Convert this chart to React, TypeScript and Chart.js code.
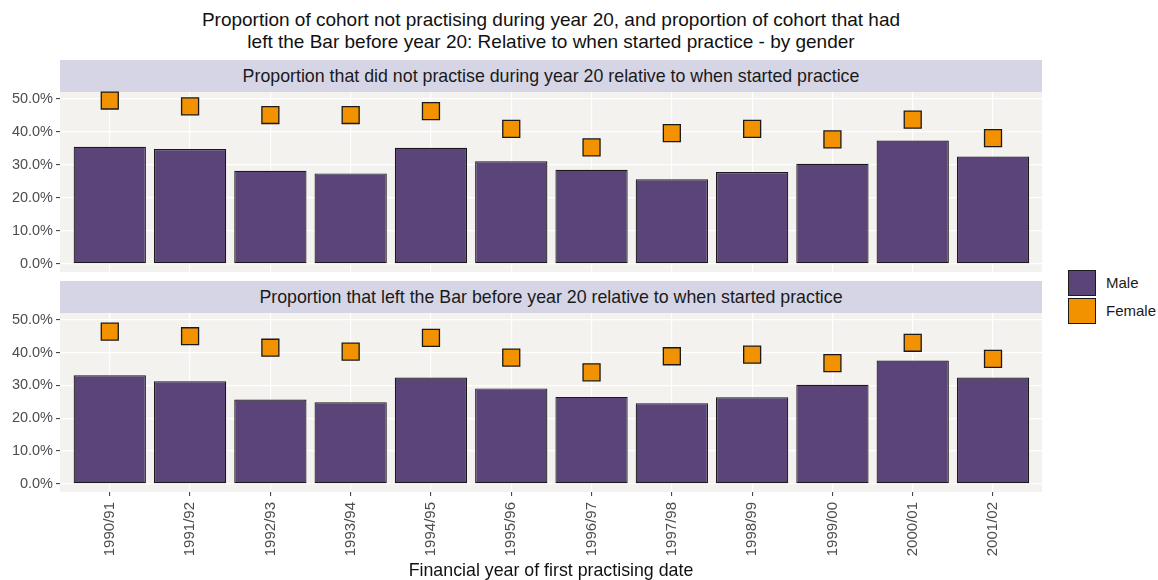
import React, { useEffect, useRef } from "react";
import Chart from "chart.js/auto";

const categories = ["1990/91", "1991/92", "1992/93", "1993/94", "1994/95", "1995/96", "1996/97", "1997/98", "1998/99", "1999/00", "2000/01", "2001/02"];
const notPractisingMale = [35.5, 34.8, 28.2, 27.4, 35.2, 31.1, 28.5, 25.6, 27.8, 30.3, 37.4, 32.5];
const notPractisingFemale = [49.5, 47.7, 45.1, 45.1, 46.3, 40.9, 35.3, 39.6, 40.9, 37.7, 43.7, 38.1];
const leftBarMale = [33.1, 31.3, 25.7, 24.9, 32.4, 29.1, 26.5, 24.6, 26.4, 30.2, 37.6, 32.4];
const leftBarFemale = [46.4, 45.0, 41.5, 40.3, 44.5, 38.5, 34.0, 38.9, 39.4, 36.8, 43.0, 38.1];
const yTickValues = [0, 10, 20, 30, 40, 50];
const seriesNames = ["Male", "Female"];
const titleLines = [
  "Proportion of cohort not practising during year 20, and proportion of cohort that had",
  "left the Bar before year 20: Relative to when started practice - by gender",
];
const stripTitles = [
  "Proportion that did not practise during year 20 relative to when started practice",
  "Proportion that left the Bar before year 20 relative to when started practice",
];
const xAxisTitle = "Financial year of first practising date";

const FONT = '"Liberation Sans", Arial, sans-serif';
const MALE = "#5A4478";
const FEMALE = "#F39200";
const PANEL_BG = "#F3F2EF";
const STRIP_BG = "#D6D5E5";

const panelBg = {
  id: "panelBg",
  beforeDraw(chart: any) {
    const { ctx, chartArea } = chart;
    ctx.save();
    ctx.fillStyle = PANEL_BG;
    ctx.fillRect(chartArea.left, chartArea.top, chartArea.right - chartArea.left, chartArea.bottom - chartArea.top);
    ctx.restore();
  },
};

function makeConfig(male: number[], female: number[], showX: boolean): any {
  return {
    type: "bar",
    data: {
      datasets: [
        {
          type: "line",
          label: seriesNames[1],
          data: female.map((v, i) => ({ x: i + 1, y: v })),
          showLine: false,
          pointStyle: "rect",
          pointRadius: 12,
          pointHoverRadius: 12,
          pointBackgroundColor: FEMALE,
          pointBorderColor: "#1a1a1a",
          pointBorderWidth: 1.3,
          clip: false,
          order: 1,
        },
        {
          type: "bar",
          label: seriesNames[0],
          data: male.map((v, i) => ({ x: i + 1, y: v })),
          backgroundColor: MALE,
          borderColor: "#1a1a1a",
          borderWidth: 1.2,
          borderSkipped: false,
          barPercentage: 0.9,
          categoryPercentage: 1,
          order: 2,
        },
      ],
    },
    options: {
      responsive: false,
      animation: false,
      events: [],
      layout: { autoPadding: false, padding: { top: 7, bottom: showX ? 0 : 8, left: 0, right: 8 } },
      plugins: { legend: { display: false }, tooltip: { enabled: false }, title: { display: false } },
      scales: {
        x: {
          type: "linear",
          min: 0.38,
          max: 12.61,
          offset: false,
          afterFit: (s: any) => {
            s.height = showX ? 88 : 0;
            s.paddingLeft = 0;
            s.paddingRight = 0;
          },
          border: { display: false },
          grid: {
            offset: false,
            color: "#FFFFFF",
            lineWidth: 1.2,
            drawTicks: showX,
            tickLength: 4,
            tickColor: "#333333",
            tickWidth: 1,
          },
          ticks: {
            display: showX,
            stepSize: 1,
            includeBounds: false,
            autoSkip: false,
            minRotation: 90,
            maxRotation: 90,
            padding: 6,
            color: "#4D4D4D",
            font: { family: FONT, size: 15 },
            callback: (v: number) => categories[v - 1] ?? "",
          },
        },
        y: {
          min: -2.48,
          max: 52.08,
          afterFit: (s: any) => {
            s.width = 60;
            s.paddingTop = 0;
            s.paddingBottom = 0;
          },
          border: { display: false },
          grid: {
            color: "#FFFFFF",
            lineWidth: (ctx: any) => (ctx.tick && yTickValues.includes(ctx.tick.value) ? 1.2 : 0.6),
            tickColor: (ctx: any) => (ctx.tick && yTickValues.includes(ctx.tick.value) ? "#333333" : "rgba(0,0,0,0)"),
            tickLength: 4,
            tickWidth: 1,
          },
          ticks: {
            stepSize: 5,
            includeBounds: false,
            padding: 3,
            color: "#4D4D4D",
            font: { family: FONT, size: 14.5 },
            callback: (v: number) => (yTickValues.includes(v) ? v.toFixed(1) + "%" : ""),
          },
        },
      },
    },
    plugins: [panelBg],
  };
}

function Panel({ male, female, showX, top, height }: any) {
  const ref = useRef<HTMLCanvasElement | null>(null);
  useEffect(() => {
    if (!ref.current) return;
    const chart = new Chart(ref.current, makeConfig(male, female, showX));
    return () => chart.destroy();
  }, []);
  return (
    <canvas
      ref={ref}
      width={1050}
      height={height}
      style={{ position: "absolute", left: 0, top, width: 1050, height }}
    />
  );
}

const stripStyle = (top: number): React.CSSProperties => ({
  position: "absolute",
  left: 60,
  top,
  width: 982,
  height: 32,
  background: STRIP_BG,
  color: "#1A1A1A",
  fontSize: 17.8,
  lineHeight: "32px",
  textAlign: "center",
  whiteSpace: "nowrap",
});

export default function App() {
  return (
    <div
      style={{
        position: "absolute",
        left: 0,
        top: 0,
        width: 1158,
        height: 580,
        background: "#FFFFFF",
        fontFamily: FONT,
        overflow: "hidden",
      }}
    >
      <div
        style={{
          position: "absolute",
          left: 60,
          top: 9,
          width: 982,
          textAlign: "center",
          fontSize: 19,
          lineHeight: "22px",
          color: "#111111",
          whiteSpace: "nowrap",
        }}
      >
        <div>{titleLines[0]}</div>
        <div>{titleLines[1]}</div>
      </div>
      <div style={stripStyle(60)}>{stripTitles[0]}</div>
      <Panel male={notPractisingMale} female={notPractisingFemale} showX={false} top={85} height={195} />
      <div style={stripStyle(281)}>{stripTitles[1]}</div>
      <Panel male={leftBarMale} female={leftBarFemale} showX={true} top={306} height={274} />
      <div
        style={{
          position: "absolute",
          left: 60,
          top: 560,
          width: 982,
          textAlign: "center",
          fontSize: 17.8,
          lineHeight: "20px",
          color: "#111111",
        }}
      >
        {xAxisTitle}
      </div>
      {seriesNames.map((name, i) => (
        <div key={name}>
          <div
            style={{
              position: "absolute",
              left: 1068,
              top: 270 + i * 28,
              width: 26,
              height: 24,
              background: i === 0 ? MALE : FEMALE,
              border: "1px solid #1a1a1a",
            }}
          />
          <div
            style={{
              position: "absolute",
              left: 1106,
              top: 270 + i * 28,
              height: 26,
              lineHeight: "26px",
              fontSize: 15,
              color: "#1A1A1A",
            }}
          >
            {name}
          </div>
        </div>
      ))}
    </div>
  );
}
